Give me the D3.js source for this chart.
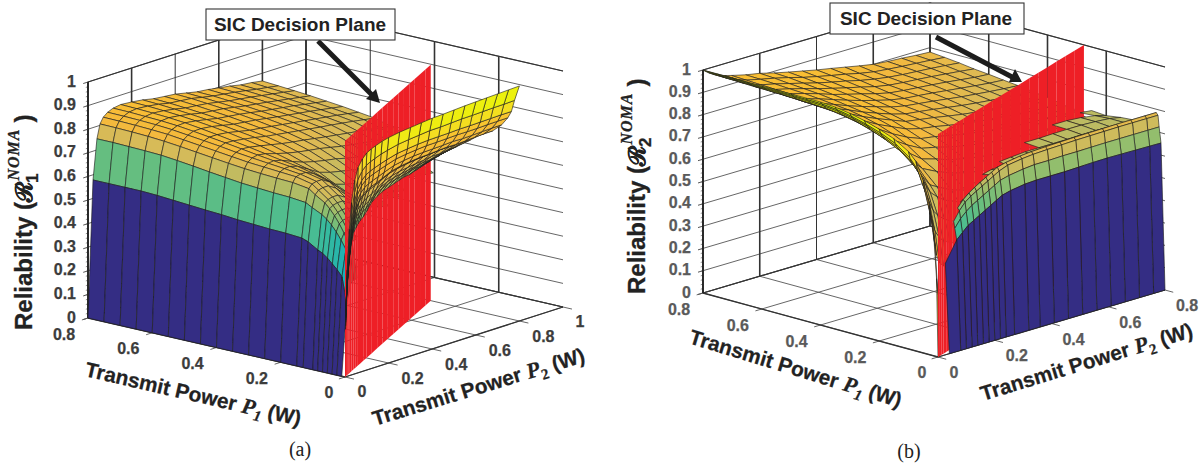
<!DOCTYPE html>
<html><head><meta charset="utf-8">
<script src="https://cdn.jsdelivr.net/npm/d3@7/dist/d3.min.js"></script>
<style>html,body{margin:0;background:#fff}svg{display:block}</style></head>
<body><svg id="c" width="1203" height="466"></svg>
<script>
// ---------- data ----------
const ticksZ=[0,.1,.2,.3,.4,.5,.6,.7,.8,.9,1];
const ticksP1=[0,.2,.4,.6,.8];
const ticksP2A=[0,.2,.4,.6,.8,1];
const ticksP2B=[0,.2,.4,.6,.8];
const planeRatio=0.345;            // SIC plane: P1 = ratio * P2
const planeP2=[0,.01,.02,.03,.045,.06,.08,.1,.12,.14,.17,.2,.25,.3,.35,.4,.45,.5,.55,.6,.65,.7,.75,.8];

// panel (a), region left of the plane: rows are P2, columns are P1
const aLeftP1=[.8,.75,.7,.65,.6,.55,.5,.45,.4,.35,.3,.25,.2,.15,.13,.1,.085,.07,.055,.04,.025,.01,0];
const aLeftP2=[0,.023,.041,.055,.07,.09,.115,.15,.2,.25,.3,.35,.4,.45,.5,.55,.6,.65,.7,.75,.8];
const aLeftZ=[
[0,0,0,0,0,0,0,0,0,0,0,0,0,0,0,0,0,0,0,0,0,0,0],
[.578,.578,.578,.578,.575,.57,.565,.56,.556,.55,.546,.542,.54,.535,.525,.5,.49,.475,.455,.435,.41,.3],
[.747,.747,.745,.743,.74,.733,.725,.716,.708,.7,.695,.69,.687,.68,.665,.645,.63,.61,.585,.555,.52,.38],
[.806,.805,.803,.8,.795,.788,.78,.772,.764,.757,.752,.748,.745,.735,.715,.69,.67,.645,.615,.58,.535,.39],
[.83,.829,.827,.824,.82,.812,.804,.796,.788,.78,.775,.77,.765,.75,.73,.7,.68,.655,.625,.59,.545,.395],
[.845,.844,.842,.839,.834,.826,.818,.81,.8,.792,.785,.778,.77,.755,.735,.705,.685,.66,.63,.595,.55],
[.855,.854,.851,.848,.843,.835,.826,.817,.807,.797,.788,.78,.77,.755,.735,.705,.685,.66,.63,.595],
[.86,.858,.855,.851,.845,.836,.826,.815,.804,.792,.78,.77,.755,.735,.715,.685,.665,.64,.615,.58],
[.856,.854,.85,.845,.838,.83,.82,.808,.795,.778,.76,.743,.72,.69,.67,.645,.63,.61],
[.85,.847,.842,.836,.829,.82,.81,.8,.785,.765,.742,.715,.68,.65,.635,.615,.6],
[.84,.837,.832,.826,.819,.81,.8,.79,.775,.755,.73,.7,.665,.635,.62,.6],
[.835,.832,.827,.82,.813,.804,.794,.783,.767,.747,.72,.69,.655,.625,.61,.59],
[.83,.827,.821,.815,.807,.798,.787,.776,.76,.74,.712,.68,.645,.615,.6],
[.82,.817,.812,.806,.799,.79,.78,.769,.752,.73,.7,.67,.635,.605,.59],
[.81,.808,.803,.797,.79,.782,.773,.762,.744,.72,.69,.66,.625,.595],
[.805,.801,.796,.79,.783,.775,.766,.755,.737,.712,.682,.65,.615],
[.797,.794,.789,.783,.776,.768,.759,.749,.73,.705,.675,.643,.607],
[.79,.786,.781,.775,.769,.761,.752,.742,.723,.698,.668,.636,.6],
[.78,.777,.773,.767,.76,.753,.745,.735,.716,.692,.662,.63,.595],
[.775,.77,.765,.759,.752,.745,.737,.727,.708,.686,.656,.625],
[.767,.762,.757,.751,.744,.737,.728,.719,.7,.68,.65,.62]];

// panel (a), region right of the plane: rows are the fraction of the way to the plane, columns are P2
const aRightFrac=[0,.055,.09,.13,.2,.3,.4,.55,.7,.85,1];
const aRightP2=[.005,.01,.02,.03,.045,.06,.08,.1,.12,.14,.17,.2,.25,.3,.35,.4,.45,.5,.55,.6,.65,.7,.75,.8];
const aRightZ=[
[.3,.45,.62,.73,.82,.87,.9,.92,.93,.938,.948,.955,.963,.968,.973,.978,.98,.983,.986,.988,.99,.992,.994,.996],
[.29,.425,.579,.681,.768,.817,.848,.866,.876,.883,.893,.9,.91,.915,.919,.923,.923,.925,.927,.927,.928,.929,.929,.93],
[.28,.407,.548,.644,.728,.776,.808,.825,.835,.842,.851,.859,.87,.875,.879,.881,.881,.881,.882,.881,.881,.881,.881,.88],
[.275,.396,.53,.621,.704,.752,.784,.801,.811,.817,.826,.834,.846,.851,.854,.856,.855,.855,.855,.853,.852,.852,.851,.85],
[.265,.382,.507,.594,.675,.723,.755,.771,.781,.787,.795,.804,.817,.822,.825,.825,.824,.823,.823,.819,.818,.817,.816,.814],
[.26,.37,.486,.569,.648,.696,.728,.743,.753,.76,.767,.775,.79,.795,.797,.797,.795,.794,.793,.788,.786,.785,.783,.78],
[.25,.363,.475,.557,.635,.682,.715,.729,.739,.746,.753,.761,.776,.781,.783,.783,.781,.779,.777,.772,.77,.768,.766,.763],
[.24,.347,.449,.524,.601,.647,.681,.694,.704,.71,.716,.726,.742,.747,.748,.746,.744,.741,.739,.732,.73,.727,.724,.72],
[.23,.332,.424,.495,.569,.615,.649,.661,.671,.677,.683,.692,.71,.715,.716,.713,.71,.706,.703,.696,.692,.689,.685,.68],
[.215,.318,.399,.465,.537,.583,.617,.629,.639,.644,.65,.659,.678,.683,.683,.68,.675,.671,.667,.659,.654,.65,.646,.64],
[.2,.3,.37,.43,.5,.545,.58,.59,.6,.605,.61,.62,.64,.645,.645,.64,.635,.63,.625,.615,.61,.605,.6,.593]];

// panel (b), region left of the plane: rows are P2, columns are P1
const bLeftP1=[.8,.75,.7,.65,.6,.55,.5,.45,.4,.35,.3,.25,.2,.15,.1,.075,.05,.03,.015,.005,0];
const bLeftP2=[0,.005,.01,.02,.035,.05,.075,.1,.15,.2,.25,.3,.35,.4,.45,.5,.55,.6,.65,.7,.75,.8];
const bLeftZ=[
[1,1,1,1,1,1,1,1,1,.995,.985,.97,.95,.925,.885,.85,.77,.67,.55,.35,0],
[.995,.995,.995,.994,.993,.993,.992,.991,.99,.983,.971,.953,.931,.902,.854,.814,.728,.621,.49,.273,0],
[.99,.989,.988,.987,.986,.985,.984,.982,.98,.973,.96,.942,.917,.886,.836,.795,.708,.596,.448],
[.98,.979,.978,.977,.975,.973,.971,.968,.965,.957,.944,.924,.898,.865,.814,.769,.671,.546,.41],
[.968,.967,.965,.963,.962,.96,.957,.954,.95,.94,.926,.905,.879,.845,.783,.728,.624,.513,.39],
[.96,.958,.957,.955,.952,.949,.945,.942,.938,.927,.913,.892,.865,.823,.752,.693,.6,.491,.382],
[.947,.945,.943,.941,.938,.934,.93,.927,.922,.912,.896,.87,.834,.786,.708,.663,.571,.474],
[.938,.935,.932,.929,.927,.923,.92,.915,.91,.896,.877,.846,.808,.754,.69,.639,.554,.462],
[.922,.92,.917,.913,.91,.904,.897,.89,.878,.861,.837,.805,.76,.722,.657,.612,.537],
[.91,.906,.9,.895,.89,.882,.872,.862,.85,.832,.803,.771,.741,.696,.637,.598],
[.893,.89,.883,.876,.868,.86,.85,.838,.825,.803,.778,.757,.719,.678,.627],
[.878,.872,.865,.859,.85,.84,.83,.815,.8,.786,.768,.739,.705,.666,.618],
[.864,.857,.85,.842,.833,.822,.81,.797,.79,.776,.754,.726,.694,.657],
[.85,.843,.836,.827,.815,.805,.796,.789,.78,.763,.741,.715,.684,.65],
[.838,.83,.82,.81,.8,.793,.788,.78,.768,.751,.731,.706,.678],
[.825,.815,.807,.798,.792,.787,.78,.77,.757,.742,.722,.698,.673],
[.812,.803,.797,.791,.786,.78,.771,.76,.748,.735,.716,.694,.665],
[.8,.796,.79,.786,.78,.772,.762,.752,.742,.728,.709,.689,.663],
[.794,.79,.785,.78,.773,.764,.755,.745,.736,.722,.705,.684,.66],
[.79,.785,.78,.773,.765,.756,.748,.739,.73,.716,.699,.679,.655],
[.784,.78,.774,.766,.757,.749,.742,.733,.725,.712,.697,.677],
[.78,.774,.767,.758,.752,.744,.737,.728,.72,.708,.692,.669]];

// panel (b), region right of the plane: rows are P2, columns are P1
const bRightP1=[0,.0136,.02,.0238,.03,.04,.05,.08,.1,.15,.2,.25];
const bRightP2=[.04,.08,.1,.12,.14,.16,.18,.2,.22,.24,.27,.32,.36,.41,.46,.51,.56,.61,.66,.71,.76,.8];
const bRightZ=[
[0,.4],
[0,.49,.54,.57],
[0,.515,.575,.61,.62],
[0,.54,.6,.64,.65,.635],
[0,.555,.62,.66,.672,.648],
[0,.57,.635,.675,.69,.665,.645],
[0,.585,.65,.69,.705,.68,.66],
[0,.6,.665,.705,.72,.695,.68],
[0,.615,.68,.72,.735,.71,.695],
[0,.63,.695,.735,.75,.725,.71,.7],
[0,.64,.705,.75,.76,.735,.72,.71],
[0,.65,.715,.76,.77,.745,.73,.715,.72],
[0,.653,.72,.765,.775,.75,.732,.72,.725],
[0,.653,.72,.768,.778,.753,.735,.725,.73],
[0,.653,.722,.77,.78,.755,.738,.725,.73,.735],
[0,.655,.722,.772,.782,.757,.74,.728,.73,.735],
[0,.657,.723,.773,.783,.758,.742,.728,.73,.737],
[0,.658,.724,.774,.784,.759,.743,.73,.732,.738,.74],
[0,.657,.724,.775,.785,.76,.744,.73,.732,.738,.74],
[0,.656,.724,.775,.785,.76,.744,.73,.73,.735,.735],
[0,.655,.724,.775,.785,.76,.745,.73,.73,.73,.725,.72],
[0,.654,.724,.775,.785,.76,.745,.73,.725,.72,.71,.715]];

// ---------- layout and styles ----------
const colorZ=d3.scaleLinear()
 .domain([0,.1,.3,.4,.45,.5,.58,.65,.7,.73,.76,.8,.87,.92,.97])
 .range(["#342d84","#1f58b8","#0e9ed0","#14adc0","#27b5aa","#3abb9c","#66be7f","#8fbe6e","#bcbb62","#d3bb5a","#dcba55","#f3b93e","#f9be33","#f5dc22","#efea14"]);
const svg=d3.select("#c");
const SANS="'Liberation Sans',Arial,sans-serif", SERIF="'Liberation Serif','Times New Roman',serif";

function panel(o){
  const g=svg.append("g");
  const X1=d3.scaleLinear().domain([0,.8]).range([0,o.p1End[0]-o.o[0]]);
  const Y1=d3.scaleLinear().domain([0,.8]).range([0,o.p1End[1]-o.o[1]]);
  const X2=d3.scaleLinear().domain([0,o.p2Max]).range([0,o.p2End[0]-o.o[0]]);
  const Y2=d3.scaleLinear().domain([0,o.p2Max]).range([0,o.p2End[1]-o.o[1]]);
  const Z=d3.scaleLinear().domain([0,1]).range([0,o.h]);
  const proj=(a,b,z)=>[o.o[0]+X1(a)+X2(b),o.o[1]+Y1(a)+Y2(b)-Z(z)];
  const seg=(p,q,w,c)=>g.append("line").attr("x1",proj(...p)[0]).attr("y1",proj(...p)[1]).attr("x2",proj(...q)[0]).attr("y2",proj(...q)[1]).attr("stroke",c).attr("stroke-width",w);
  const M2=o.p2Max;
  // walls and floor
  o.ticksZ.forEach(z=>{ seg([.8,0,z],[.8,M2,z],.9,"#555"); seg([.8,M2,z],[0,M2,z],.9,"#555");
    seg([.8,-.022*M2,z],[.8,0,z],.9,"#444"); });
  d3.range(0,1.001,.02).forEach(z=>seg([.8,-.01*M2,z],[.8,0,z],.7,"#666"));
  o.ticksP1.forEach(a=>{ seg([a,0,0],[a,M2,0],.9,"#555"); seg([a,-.028*M2,0],[a,0,0],.9,"#555");
    if(a>0) seg([a,M2,0],[a,M2,1],o.thinP1.includes(a)?1:1.6,"#333"); });
  o.ticksP2.forEach(b=>{ seg([0,b,0],[.8,b,0],.9,"#555"); seg([-.028,b,0],[0,b,0],.9,"#555");
    seg([.8,b,0],[.8,b,1],o.thinP2.includes(b)?1:1.6,"#333"); });
  seg([.8,0,1],[.8,M2,1],1.1,"#333"); seg([.8,M2,1],[0,M2,1],1.1,"#333");
  seg([.8,0,0],[.8,M2,0],1.2,"#333"); seg([.8,M2,0],[0,M2,0],1.2,"#333");
  seg([0,0,0],[.8,0,0],1.3,"#333"); seg([0,0,0],[0,M2,0],1.3,"#333");
  seg([.8,0,0],[.8,0,1],1.7,"#222");
  return {g,proj,M2};
}
function mesh(P,cells,order){
  const list=[];
  cells.forEach(c=>list.push(c));
  list.sort(order);
  P.g.append("g").selectAll("path").data(list).join("path")
   .attr("d",c=>"M"+c.pts.map(p=>P.proj(...p).join(",")).join("L")+"Z")
   .attr("fill",c=>colorZ(c.z)).attr("stroke","#1c1c1c").attr("stroke-width",.62).attr("stroke-linejoin","round");
}
const depth=M2=>(a,b)=>{const d=c=>d3.sum(c.pts,p=>p[0]/.8+p[1]/M2);return d(b)-d(a);};
// rows = P2, cols = P1
function cellsByP2(p2s,p1s,Z,tone){
  const out=[];
  for(let r=0;r<p2s.length-1;r++)for(let c=0;c<p1s.length-1;c++){
    const v=[Z[r][c],Z[r][c+1],Z[r+1][c+1],Z[r+1][c]];
    if(v.some(x=>x===undefined))continue;
    out.push({z:tone(r,c,Z),pts:[[p1s[c],p2s[r],v[0]],[p1s[c+1],p2s[r],v[1]],[p1s[c+1],p2s[r+1],v[2]],[p1s[c],p2s[r+1],v[3]]]});
  }
  return out;
}
function plane(P){
  const g=P.g.append("g");
  for(let i=0;i<planeP2.length-1;i++){
    const b0=planeP2[i],b1=planeP2[i+1];
    const pts=[[planeRatio*b0,b0,0],[planeRatio*b1,b1,0],[planeRatio*b1,b1,1],[planeRatio*b0,b0,1]];
    g.append("path").attr("d","M"+pts.map(p=>P.proj(...p).join(",")).join("L")+"Z").attr("fill","#ee1f26");
  }
}
function tickLabels(P,o){
  const t=(x,y,s,a)=>P.g.append("text").attr("x",x).attr("y",y).attr("text-anchor",a||"middle").attr("dominant-baseline","central")
    .attr("font-family",SANS).attr("font-weight",700).attr("font-size",16).attr("fill",o.tickColor).attr("stroke",o.tickColor).attr("stroke-width",.25).text(s);
  const f=v=>v===0?"0":v===1?"1":String(v);
  o.ticksZ.forEach(z=>{const p=P.proj(.8,0,z);t(p[0]-12,p[1]-1,f(z),"end");});
  o.ticksP1.forEach(a=>{const p=P.proj(a,0,0);const k=a===0?o.p1Zero:o.p1Off;t(p[0]+k[0],p[1]+k[1],f(a));});
  o.ticksP2.forEach(b=>{const p=P.proj(0,b,0);const k=(b===0)?o.p2Zero:(b===o.p2Max&&b===1?o.p2Zero:o.p2Off);t(p[0]+k[0],p[1]+k[1],f(b));});
}
function axisTitle(P,x,y,rot,sub){
  const t=P.g.append("text").attr("transform",`translate(${x},${y}) rotate(${rot})`).attr("font-family",SANS).attr("font-weight",700).attr("font-size",20.8).attr("fill","#222").attr("stroke","#222").attr("stroke-width",.25);
  t.append("tspan").text("Transmit Power ");
  t.append("tspan").attr("font-family",SERIF).attr("font-style","italic").attr("font-size",22).text("P");
  t.append("tspan").attr("font-family",SERIF).attr("font-style",sub==="1"?"italic":"normal").attr("font-size",15).attr("dy",5).text(sub);
  t.append("tspan").attr("dy",-5).text(" (W)");
}
function yTitle(P,x,y,sub){
  const t=P.g.append("text").attr("transform",`translate(${x},${y}) rotate(-90)`).attr("font-family",SANS).attr("font-weight",700).attr("font-size",24).attr("fill","#222").attr("stroke","#222").attr("stroke-width",.3);
  t.append("tspan").text("Reliability (");
  t.append("tspan").attr("font-family","'DejaVu Serif',serif").attr("font-size",23).text("\u211B");
  t.append("tspan").attr("font-size",17).attr("dy",6).attr("dx",-1).text(sub);
  t.append("tspan").attr("font-family",SERIF).attr("font-style","italic").attr("font-size",16).attr("dy",-19).attr("dx",-7).attr("letter-spacing",1).text("NOMA");
  t.append("tspan").attr("dy",13).attr("dx",6).text(")");
}
function callout(b,tx,ty,line,head){
  svg.append("path").attr("d",d3.line()(line)).attr("stroke","#1c1c1c").attr("stroke-width",5).attr("fill","none");
  svg.append("path").attr("d",d3.line()(head)+"Z").attr("fill","#1c1c1c");
  svg.append("rect").attr("x",b[0]).attr("y",b[1]).attr("width",b[2]).attr("height",b[3]).attr("fill","#fff").attr("stroke","#333").attr("stroke-width",1.1);
  svg.append("text").attr("x",tx).attr("y",ty).attr("text-anchor","middle").attr("font-family",SANS).attr("font-weight",700).attr("font-size",19).attr("fill","#222").text("SIC Decision Plane");
}
function caption(x,y,s){svg.append("text").attr("x",x).attr("y",y).attr("text-anchor","middle").attr("font-family",SERIF).attr("font-size",20).attr("fill","#222").text(s);}

// ---------- panel (a) ----------
const optA={o:[345,377],p1End:[88,318],p2End:[563,307],p2Max:1,h:236,ticksZ,ticksP1,ticksP2:ticksP2A,thinP1:[.6],thinP2:[.4],
  tickColor:"#3c3c3c",p1Off:[-24,16],p1Zero:[-16,15],p2Off:[24,15],p2Zero:[17,14]};
const A=panel(optA);
mesh(A,cellsByP2(aLeftP2,aLeftP1,aLeftZ,(r,c,Z)=>Z[r][c]),depth(1));
plane(A);
{
  const cells=[];
  for(let r=0;r<aRightFrac.length-1;r++)for(let c=0;c<aRightP2.length-1;c++){
    const P=(rr,cc)=>[aRightFrac[rr]*planeRatio*aRightP2[cc],aRightP2[cc],aRightZ[rr][cc]];
    cells.push({z:aRightZ[r][c+1],pts:[P(r,c),P(r,c+1),P(r+1,c+1),P(r+1,c)]});
  }
  mesh(A,cells,depth(1));
}
tickLabels(A,optA);
axisTitle(A,84,376,13,"1");
axisTitle(A,375,426,-17,"2");
yTitle(A,32,330,"1");
callout([206,9,189,31],300,31,[[318,41],[372,95]],[[380,103],[366,99],[376,89]]);
caption(300,456,"(a)");

// ---------- panel (b) ----------
const optB={o:[938,357],p1End:[703,293],p2End:[1165,290],p2Max:.8,h:223,ticksZ,ticksP1,ticksP2:ticksP2B,thinP1:[],thinP2:[.4],
  tickColor:"#5a5a5a",p1Off:[-24,16],p1Zero:[-16,15],p2Off:[22,15.5],p2Zero:[16,15]};
const B=panel(optB);
// the lip nearest P2 = 0 is bright yellow; the plateau behind it stays orange to olive
mesh(B,cellsByP2(bLeftP2,bLeftP1,bLeftZ,(r,c,Z)=>r<3?Math.max(Z[r][c]+.04,.8):Math.max(.72,Math.min(Z[r][c],.87))),depth(.8));
plane(B);
{
  const cells=[];
  for(let r=0;r<bRightP2.length-1;r++)for(let c=0;c<bRightP1.length-1;c++){
    const v=[bRightZ[r][c],bRightZ[r][c+1],bRightZ[r+1][c+1],bRightZ[r+1][c]];
    if(v.some(x=>x===undefined))continue;
    cells.push({z:c>=5?Math.min(bRightZ[r+1][c],.7):bRightZ[r+1][c],pts:[[bRightP1[c],bRightP2[r],v[0]],[bRightP1[c+1],bRightP2[r],v[1]],[bRightP1[c+1],bRightP2[r+1],v[2]],[bRightP1[c],bRightP2[r+1],v[3]]]});
  }
  mesh(B,cells,depth(.8));
}
tickLabels(B,optB);
axisTitle(B,688,343,17,"1");
axisTitle(B,983,401,-17,"2");
yTitle(B,645,294,"2");
callout([830,3,194,31],926,25,[[936,37],[1014,78]],[[1022,82],[1009,82],[1015,69]]);
caption(909,458,"(b)");
</script></body></html>
